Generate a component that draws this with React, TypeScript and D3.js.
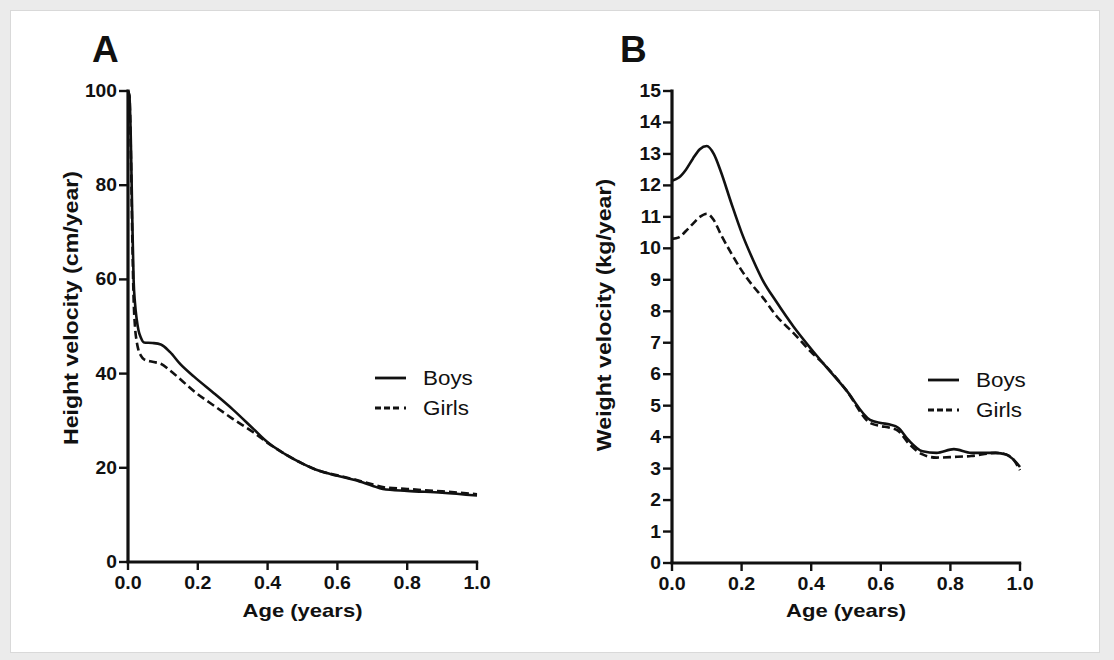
import React from "react";
import * as d3 from "d3";

// ---- Data ----
const ageA = [0, 0.004, 0.008, 0.012, 0.016, 0.02, 0.025, 0.03, 0.037, 0.046, 0.07, 0.094, 0.12, 0.15, 0.19, 0.25, 0.3, 0.36, 0.4, 0.45, 0.5, 0.55, 0.6, 0.65, 0.7, 0.73, 0.8, 0.9, 1.0];
const boysHeight = [100, 99, 90, 74, 60, 55, 51.5, 49.2, 47.6, 46.6, 46.5, 46.2, 44.6, 42.0, 39.3, 35.6, 32.4, 28.2, 25.4, 22.9, 20.9, 19.3, 18.3, 17.4, 16.2, 15.5, 15.1, 14.7, 14.1];
const girlsHeight = [100, 99, 88, 70, 56, 50, 46.8, 45.0, 43.8, 43.0, 42.5, 42.1, 40.7, 38.8, 36.2, 33.0, 30.4, 27.5, 25.3, 22.9, 20.9, 19.3, 18.4, 17.5, 16.5, 15.9, 15.5, 15.0, 14.4];

const ageB = [0, 0.02, 0.04, 0.06, 0.08, 0.1, 0.12, 0.14, 0.17, 0.2, 0.233, 0.26, 0.3, 0.35, 0.4, 0.434, 0.5, 0.569, 0.6, 0.626, 0.65, 0.68, 0.72, 0.76, 0.81, 0.86, 0.93, 0.96, 0.98, 1.0];
const boysWeight = [12.15, 12.25, 12.5, 12.85, 13.15, 13.25, 13.0, 12.45, 11.45, 10.5, 9.63, 9.0, 8.3, 7.5, 6.8, 6.35, 5.5, 4.55, 4.45, 4.4, 4.3, 3.9, 3.55, 3.5, 3.62, 3.5, 3.5, 3.45, 3.3, 3.05];
const girlsWeight = [10.3, 10.35, 10.55, 10.78, 11.0, 11.1, 10.9, 10.45, 9.85, 9.3, 8.8, 8.45, 7.85, 7.3, 6.7, 6.35, 5.5, 4.45, 4.35, 4.3, 4.2, 3.8, 3.45, 3.35, 3.37, 3.4, 3.5, 3.45, 3.3, 2.95];

const xTickLabels = ["0.0", "0.2", "0.4", "0.6", "0.8", "1.0"];
const xTicks = [0, 0.2, 0.4, 0.6, 0.8, 1.0];
const yTicksA = [0, 20, 40, 60, 80, 100];
const yTicksB = [0, 1, 2, 3, 4, 5, 6, 7, 8, 9, 10, 11, 12, 13, 14, 15];
const seriesNames = ["Boys", "Girls"];

const FONT = "'Liberation Sans', Arial, Helvetica, sans-serif";

type TProps = {
  x: number; y: number; text: string; size: number; bold?: boolean;
  anchor?: string; sx?: number; rotate?: number;
};
function T({ x, y, text, size, bold, anchor = "start", sx = 1, rotate = 0 }: TProps) {
  return (
    <text
      transform={`translate(${x},${y}) rotate(${rotate}) scale(${sx},1)`}
      fontFamily={FONT}
      fontSize={size}
      fontWeight={bold ? "bold" : "normal"}
      textAnchor={anchor}
      fill="#111"
    >
      {text}
    </text>
  );
}

type PanelProps = {
  left: number; right: number; top: number; bottom: number;
  yMax: number; yTicks: number[]; letter: string; letterX: number;
  yTitle: string; yTitleX: number; yTitleY: number;
  ages: number[]; boys: number[]; girls: number[];
  legX: number; legY: number;
};

function Panel(p: PanelProps) {
  const x = d3.scaleLinear().domain([0, 1]).range([p.left, p.right]);
  const y = d3.scaleLinear().domain([0, p.yMax]).range([p.bottom, p.top]);
  const line = d3
    .line<number>()
    .x((_, i) => x(p.ages[i]))
    .y((d) => y(d))
    .curve(d3.curveMonotoneX);
  return (
    <g>
      <T x={p.letterX} y={62} text={p.letter} size={37} bold />
      {/* curves */}
      <path d={line(p.boys) || ""} fill="none" stroke="#111" strokeWidth={2.6} strokeLinejoin="round" />
      <path d={line(p.girls) || ""} fill="none" stroke="#111" strokeWidth={2.6} strokeDasharray="8,4" />
      {/* y axis */}
      <line x1={x(0)} x2={x(0)} y1={y(p.yMax) - 1.5} y2={y(0)} stroke="#111" strokeWidth={3.2} />
      {p.yTicks.map((t) => (
        <g key={"y" + t}>
          <line x1={x(0) - 9} x2={x(0)} y1={y(t)} y2={y(t)} stroke="#111" strokeWidth={2.4} />
          <T x={x(0) - 11} y={y(t) + 6} text={String(t)} size={17.5} bold anchor="end" sx={1.1} />
        </g>
      ))}
      {/* x axis */}
      <line x1={x(0) - 1.5} x2={x(1) + 1.2} y1={y(0)} y2={y(0)} stroke="#111" strokeWidth={3.2} />
      {xTicks.map((t, i) => (
        <g key={"x" + t}>
          <line x1={x(t)} x2={x(t)} y1={y(0)} y2={y(0) + 8} stroke="#111" strokeWidth={2.4} />
          <T x={x(t)} y={y(0) + 27} text={xTickLabels[i]} size={17.5} bold anchor="middle" sx={1.12} />
        </g>
      ))}
      <T x={(x(0) + x(1)) / 2} y={617} text="Age (years)" size={19} bold anchor="middle" sx={1.16} />
      <T x={p.yTitleX} y={p.yTitleY} text={p.yTitle} size={20.5} bold anchor="middle" sx={1.13} rotate={-90} />
      {/* legend */}
      <line x1={p.legX} x2={p.legX + 31} y1={p.legY} y2={p.legY} stroke="#111" strokeWidth={2.8} />
      <T x={p.legX + 48} y={p.legY + 7} text={seriesNames[0]} size={19.5} sx={1.15} />
      <line x1={p.legX} x2={p.legX + 31} y1={p.legY + 30} y2={p.legY + 30} stroke="#111" strokeWidth={2.8} strokeDasharray="6,3,6,3,6,5,2,10" />
      <T x={p.legX + 48} y={p.legY + 37} text={seriesNames[1]} size={19.5} sx={1.15} />
    </g>
  );
}

export default function App() {
  return (
    <div style={{ position: "absolute", left: 0, top: 0 }}>
      <svg width={1114} height={660} style={{ display: "block" }}>
        <rect x={0} y={0} width={1114} height={660} fill="#ebebeb" />
        <rect x={10.5} y={10.5} width={1089} height={642} fill="#fff" stroke="#d9d9d9" />
        <Panel
          left={128} right={477} top={91} bottom={562}
          yMax={100} yTicks={yTicksA} letter="A" letterX={92}
          yTitle="Height velocity (cm/year)" yTitleX={78} yTitleY={308}
          ages={ageA} boys={boysHeight} girls={girlsHeight}
          legX={375} legY={378}
        />
        <Panel
          left={672} right={1020} top={91} bottom={563}
          yMax={15} yTicks={yTicksB} letter="B" letterX={620}
          yTitle="Weight velocity (kg/year)" yTitleX={611} yTitleY={315}
          ages={ageB} boys={boysWeight} girls={girlsWeight}
          legX={928} legY={380}
        />
      </svg>
    </div>
  );
}
